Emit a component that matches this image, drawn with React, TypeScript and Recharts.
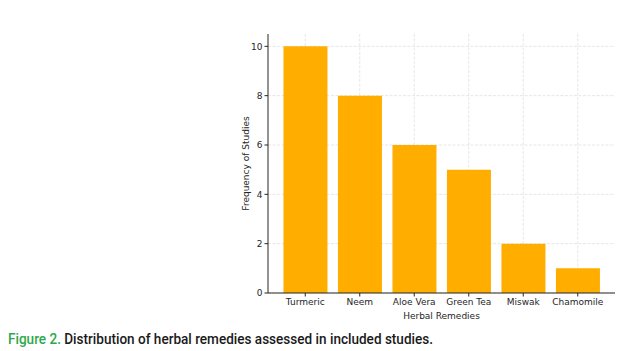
import React from "react";
import { BarChart, Bar, XAxis, YAxis, CartesianGrid } from "recharts";

const categories = ["Turmeric", "Neem", "Aloe Vera", "Green Tea", "Miswak", "Chamomile"];
const frequencies = [10, 8, 6, 5, 2, 1];
const yTicks = [0, 2, 4, 6, 8, 10];

const data = categories.map((name, i) => ({ name, value: frequencies[i] }));

const tickStyle = { fontFamily: "DejaVu Sans", fontSize: 9, fill: "#262626" };

export default function App() {
  return (
    <div style={{ position: "absolute", left: 0, top: 0, width: 620, height: 351, background: "#fff" }}>
      <BarChart
        width={620}
        height={351}
        data={data}
        margin={{ top: 34, right: 5, left: 228, bottom: 28 }}
        barCategoryGap="10%"
      >
        <Bar dataKey="value" fill="#FFAE00" isAnimationActive={false} />
        <CartesianGrid stroke="#dcdcdc" strokeDasharray="3 1.5" strokeWidth={0.7} syncWithTicks={true} />
        <XAxis
          dataKey="name"
          padding={{ left: 10, right: 10 }}
          tick={tickStyle}
          tickLine={{ stroke: "#262626" }}
          tickSize={3.5}
          axisLine={{ stroke: "#262626", strokeWidth: 1 }}
          height={30}
          interval={0}
          label={{ value: "Herbal Remedies", position: "insideBottom", offset: 4, style: { ...tickStyle } }}
        />
        <YAxis
          domain={[0, 10.5]}
          ticks={yTicks}
          tick={tickStyle}
          tickLine={{ stroke: "#262626" }}
          tickSize={3.5}
          axisLine={{ stroke: "#262626", strokeWidth: 1 }}
          width={40}
          label={{ value: "Frequency of Studies", angle: -90, position: "insideLeft", offset: 18, style: { ...tickStyle, textAnchor: "middle" } }}
        />
      </BarChart>
      <svg width={620} height={351} style={{ position: "absolute", left: 0, top: 0, pointerEvents: "none" }}>
        <text x={8} y={344} textLength={425} lengthAdjust="spacingAndGlyphs" style={{ fontFamily: "Roboto", fontSize: 14.5, fontWeight: 500 }}>
          <tspan fill="#2ea84a">Figure 2.</tspan>
          <tspan fill="#1a1a1a"> Distribution of herbal remedies assessed in included studies.</tspan>
        </text>
      </svg>
    </div>
  );
}
